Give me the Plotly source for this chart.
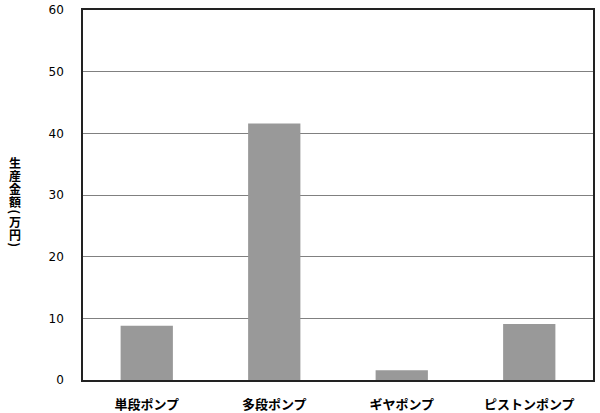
import plotly.graph_objects as go

categories = ["単段ポンプ", "多段ポンプ", "ギヤポンプ", "ピストンポンプ"]
values = [8.8, 41.6, 1.6, 9.1]
y_ticks = [0, 10, 20, 30, 40, 50, 60]
y_title = ["生", "産", "金", "額", "(", "万", "円", ")"]

jp_font = "Noto Sans CJK JP"

# plot box in pixels (600x413 page)
L, R, T, B = 83, 7, 10, 33
plot_h = 413 - T - B
plot_w = 600 - L - R

fig = go.Figure()
fig.add_trace(go.Bar(
    x=categories,
    y=values,
    marker=dict(color="#999999", line=dict(width=0)),
    width=0.41,
))

fig.update_layout(
    width=600,
    height=413,
    margin=dict(l=L, r=R, t=T, b=B, autoexpand=False),
    plot_bgcolor="white",
    paper_bgcolor="white",
    showlegend=False,
    font=dict(family=jp_font, color="#000000"),
)

fig.update_xaxes(
    automargin=False,
    showline=True, linecolor="#222222", linewidth=1.5, mirror=True,
    showgrid=False, ticks="", ticklabelstandoff=12,
    tickfont=dict(family=jp_font, size=13, color="#000000", weight="bold"),
)
fig.update_yaxes(
    automargin=False,
    range=[0, 60], tickvals=y_ticks,
    showline=True, linecolor="#222222", linewidth=1.5, mirror=True,
    showgrid=True, gridcolor="#808080", gridwidth=1,
    zeroline=False, ticks="", ticklabelstandoff=15,
    tickfont=dict(family="DejaVu Sans", size=12, color="#000000"),
)

# vertical axis title, one glyph per line, stacked tightly like the original
py = 156
for ch in y_title:
    paren = ch in "()"
    h = 7 if paren else 13
    fig.add_annotation(
        text=ch,
        xref="paper", yref="paper",
        x=(15 - L) / plot_w, y=(413 - B - (py + h / 2)) / plot_h,
        xanchor="center", yanchor="middle",
        textangle=90 if paren else 0,
        showarrow=False,
        font=dict(family=jp_font, size=12, color="#000000", weight="bold"),
    )
    py += h

fig.write_html(
    "out.html",
    config={"displayModeBar": False},
    post_script="document.body.style.margin='0';",
)
